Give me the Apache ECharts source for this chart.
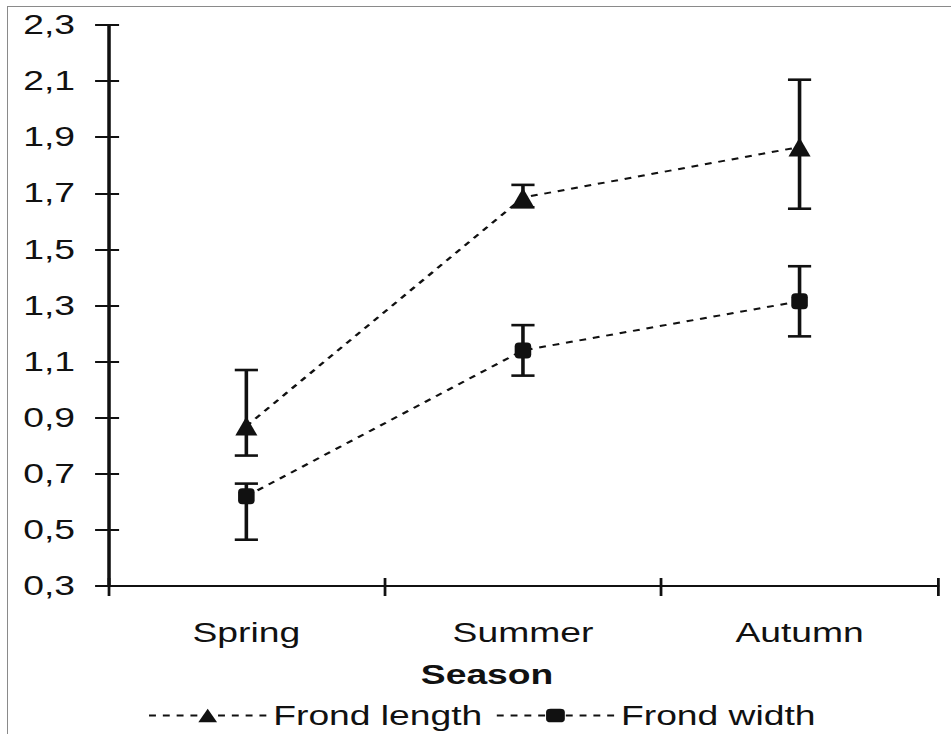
<!DOCTYPE html>
<html>
<head>
<meta charset="utf-8">
<script src="https://cdn.jsdelivr.net/npm/echarts@6/dist/echarts.min.js"></script>
<style>
  html, body { margin: 0; padding: 0; background: #fff; overflow: hidden; }
  .frame { position: absolute; left: 7px; top: 6px; width: 944px; height: 728px;
           border-left: 1px solid #8a8a8a; border-top: 1px solid #8a8a8a; }
  /* the original figure is stretched sideways, so the chart is drawn narrow and widened */
  #chart { position: absolute; left: 0; top: 0; width: 689px; height: 734px;
           transform: scaleX(1.38); transform-origin: 0 0; }
</style>
</head>
<body>
<div class="frame"></div>
<div id="chart"></div>
<script>
// categories and values
const seasons = ['Spring', 'Summer', 'Autumn']
const lengthMean = [0.87, 1.685, 1.865]
const lengthLow = [0.765, 1.65, 1.645]
const lengthHigh = [1.07, 1.73, 2.105]
const widthMean = [0.62, 1.14, 1.315]
const widthLow = [0.465, 1.05, 1.19]
const widthHigh = [0.665, 1.23, 1.44]

const fontFam = '"Liberation Sans", Arial, sans-serif'
const chart = echarts.init(document.getElementById('chart'), null, { renderer: 'svg' })

// error bars: vertical line plus two caps
const errorBar = (params, api) => {
  const x = api.value(0)
  const top = api.coord([x, api.value(2)])
  const bot = api.coord([x, api.value(1)])
  const half = 8.4
  const style = { stroke: '#111', lineWidth: 2.6 }
  return {
    type: 'group',
    children: [
      { type: 'line', shape: { x1: top[0], y1: top[1], x2: bot[0], y2: bot[1] }, style },
      { type: 'line', shape: { x1: top[0] - half, y1: top[1], x2: top[0] + half, y2: top[1] }, style },
      { type: 'line', shape: { x1: bot[0] - half, y1: bot[1], x2: bot[0] + half, y2: bot[1] }, style }
    ]
  }
}

const yBase = {
  type: 'value',
  min: 0.3,
  max: 2.3,
  interval: 0.2,
  splitLine: { show: false },
  axisLine: { show: true, lineStyle: { color: '#111', width: 2.2 } }
}
const xBase = {
  type: 'category',
  data: seasons,
  boundaryGap: true,
  splitLine: { show: false },
  axisLine: { show: true, lineStyle: { color: '#111', width: 2.2 } }
}

const options = {
  animation: false,
  textStyle: { fontFamily: fontFam },
  grid: { left: 78.3, right: 9.4, top: 25, bottom: 148 },
  xAxis: [
    Object.assign({}, xBase, {
      axisTick: { show: true, length: 10, lineStyle: { color: '#111', width: 2 } },
      axisLabel: { margin: 33, fontSize: 27, color: '#111', fontFamily: fontFam },
      name: 'Season',
      nameLocation: 'middle',
      nameGap: 75,
      nameTextStyle: { fontSize: 27, fontWeight: 'bold', color: '#111', fontFamily: fontFam, padding: [0, 52, 0, 0] }
    }),
    Object.assign({}, xBase, {
      position: 'bottom',
      axisTick: { show: true, inside: true, length: 8, lineStyle: { color: '#111', width: 2 } },
      axisLabel: { show: false }
    })
  ],
  yAxis: [
    Object.assign({}, yBase, {
      axisTick: { show: true, length: 9.4, lineStyle: { color: '#111', width: 2 } },
      axisLabel: {
        margin: 24, fontSize: 27, color: '#111', fontFamily: fontFam,
        formatter: v => v.toFixed(1).replace('.', ',')
      }
    }),
    Object.assign({}, yBase, {
      position: 'left',
      axisTick: { show: true, inside: true, length: 8, lineStyle: { color: '#111', width: 2 } },
      axisLabel: { show: false }
    })
  ],
  legend: {
    bottom: 0,
    left: 102,
    itemWidth: 85,
    itemHeight: 17,
    itemGap: 9.4,
    textStyle: { fontSize: 27, color: '#111', fontFamily: fontFam },
    data: ['Frond length', 'Frond width']
  },
  series: [
    {
      type: 'custom',
      renderItem: errorBar,
      encode: { x: 0, y: [1, 2] },
      data: seasons.map((s, i) => [i, lengthLow[i], lengthHigh[i]]),
      z: 1
    },
    {
      type: 'custom',
      renderItem: errorBar,
      encode: { x: 0, y: [1, 2] },
      data: seasons.map((s, i) => [i, widthLow[i], widthHigh[i]]),
      z: 1
    },
    {
      name: 'Frond length',
      type: 'line',
      data: lengthMean,
      symbol: 'triangle',
      symbolSize: [16, 19],
      itemStyle: { color: '#111' },
      lineStyle: { color: '#111', width: 2, type: [5, 5] },
      z: 3
    },
    {
      name: 'Frond width',
      type: 'line',
      data: widthMean,
      symbol: 'roundRect',
      symbolSize: [12, 16],
      itemStyle: { color: '#111' },
      lineStyle: { color: '#111', width: 2, type: [5, 5] },
      z: 3
    }
  ]
}

chart.setOption(options)
</script>
</body>
</html>
